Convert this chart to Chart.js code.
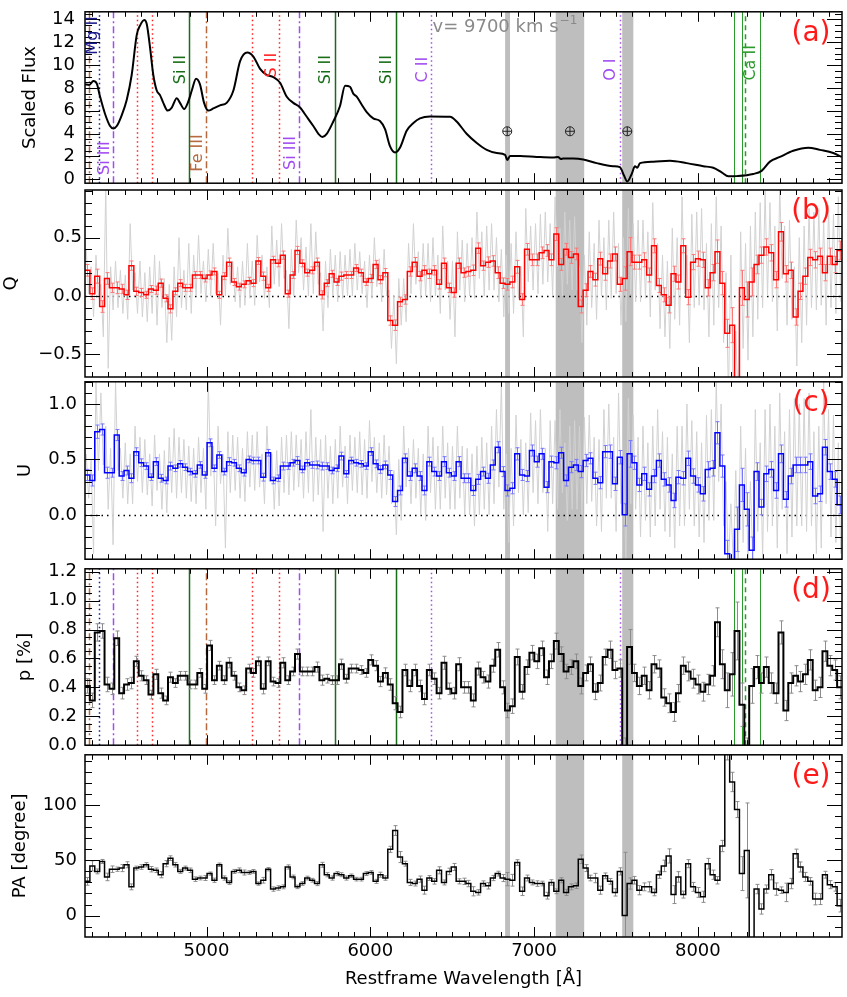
<!DOCTYPE html>
<html>
<head>
<meta charset="utf-8">
<title>Spectropolarimetry</title>
<script src="https://cdn.jsdelivr.net/npm/chart.js@4.4.1/dist/chart.umd.min.js"></script>
<style>
  html, body { margin: 0; padding: 0; background: #fff; }
  #wrap { position: relative; width: 847px; height: 997px; overflow: hidden; }
  #wrap canvas { position: absolute; left: 0; }
</style>
</head>
<body>
<div id="wrap"></div>
<script>
// wavelength range and axis ticks
var waveMin = 4258, waveMax = 8880;
var xMajorTicks = [5000, 6000, 7000, 8000];
var fluxTicks = [0, 2, 4, 6, 8, 10, 12, 14];
var qTicks = [-0.5, 0, 0.5];
var uTicks = [0, 0.5, 1.0];
var pTicks = [0, 0.2, 0.4, 0.6, 0.8, 1.0, 1.2];
var paTicks = [0, 50, 100];

// panel (a): scaled flux
var fluxWave = [4258, 4284, 4309, 4330, 4350, 4380, 4411, 4431, 4452, 4482, 4513, 4543, 4574, 4594, 4620, 4635,
  4655, 4675, 4696, 4716, 4736, 4763, 4788, 4818, 4838, 4863, 4889, 4910, 4936, 4960, 4985, 5011, 5042, 5082,
  5123, 5164, 5205, 5249, 5286, 5327, 5368, 5408, 5449, 5490, 5530, 5571, 5612, 5652, 5683, 5707, 5734, 5774,
  5815, 5846, 5876, 5896, 5917, 5947, 5978, 6018, 6059, 6090, 6120, 6151, 6181, 6222, 6263, 6303, 6364, 6487,
  6527, 6588, 6650, 6711, 6772, 6823, 6836, 6853, 6914, 7016, 7117, 7146, 7164, 7178, 7239, 7300, 7382, 7483,
  7524, 7549, 7569, 7596, 7616, 7630, 7647, 7728, 7830, 7932, 8033, 8094, 8145, 8186, 8237, 8338, 8389, 8440,
  8501, 8582, 8674, 8745, 8827, 8878];
var fluxVal = [8.31, 8.26, 8.6, 8.37, 7.23, 5.74, 4.66, 4.44, 4.66, 5.6, 6.96, 9.13, 12.65, 13.46, 13.95, 13.6,
  11.56, 9.13, 7.77, 7.37, 6.69, 6.01, 6.28, 7.1, 6.69, 6.15, 6.82, 7.77, 8.8, 8.31, 6.69, 6.01, 6.2, 6.47,
  6.69, 7.77, 10.34, 11.1, 10.75, 9.67, 9.13, 8.95, 8.45, 7.23, 6.69, 6.28, 5.47, 4.66, 3.98, 3.7, 3.98, 5.06,
  6.42, 8.2, 8.1, 7.5, 7.23, 6.55, 5.88, 5.33, 5.1, 4.39, 2.9, 2.35, 2.76, 4.25, 4.93, 5.33, 5.5, 5.47,
  5.06, 3.98, 3.17, 2.57, 2.3, 2.14, 1.68, 2.03, 2.03, 1.95, 1.9, 1.95, 1.78, 1.81, 1.81, 1.73, 1.41, 1.14,
  1.06, 0.32, -0.2, 0.46, 1.14, 1.0, 1.41, 1.54, 1.62, 1.41, 1.14, 1.0, 0.6, 0.25, 0.27, 0.46, 0.73, 1.54,
  1.95, 2.49, 2.76, 2.57, 2.3, 1.95];

// identified lines (panels a and d)
var markWave = [4285, 4346, 4431, 4574, 4669, 4895, 4997, 5280, 5444, 5565, 5784, 6155, 6371, 7524, 8222, 8267, 8288, 8379];
var markKind = ['fe', 'mg', 'si3', 's2', 's2', 'si2', 'fe', 's2', 's2', 'si3', 'si2', 'si2', 'c2', 'c2', 'ca', 'ca', 'caMid', 'ca'];
var labelText = ['Mg II', 'Si III', 'Si II', 'Fe III', 'S II', 'Si III', 'Si II', 'Si II', 'C II', 'O I', 'Ca II'];
var labelWave = [4307, 4380, 4844, 4948, 5400, 5516, 5730, 6102, 6322, 7470, 8324];
var labelFlux = [12.6, 1.85, 9.6, 2.3, 10.0, 2.3, 9.6, 9.6, 9.6, 9.6, 10.2];
var labelKind = ['mg', 'si3', 'si2', 'fe', 's2', 'si3', 'si2', 'si2', 'c2', 'c2', 'ca'];

// telluric regions
var bandStart = [6823, 7132, 7538];
var bandEnd = [6853, 7306, 7606];
var tellWave = [6836, 7219, 7569];
var tellFlux = 4.2;

// binned Stokes Q, U, polarization p and PA (per bin)
var qBin = [
  0.22, 0.02, 0.17, -0.09, 0.15, 0.07, 0.07, 0.06, 0.01, 0.26,
  0.04, 0.03, 0.01, 0.06, 0.05, 0.11, -0.02, -0.11, 0.04, 0.11,
  0.07, 0.07, 0.18, 0.18, 0.15, 0.18, 0.21, 0.01, 0.17, 0.29,
  0.12, 0.08, 0.10, 0.13, 0.11, 0.30, 0.17, 0.07, 0.31, 0.28,
  0.35, 0.02, 0.18, 0.39, 0.28, 0.20, 0.22, 0.29, 0.01, 0.11,
  0.19, 0.12, 0.17, 0.18, 0.18, 0.24, 0.20, 0.12, 0.15, 0.27,
  0.14, 0.20, -0.21, -0.25, -0.05, -0.03, 0.21, 0.29, 0.17, 0.22,
  0.19, 0.22, 0.10, 0.28, 0.07, 0.03, 0.28, 0.20, 0.21, 0.22,
  0.41, 0.26, 0.29, 0.30, 0.20, 0.11, 0.10, 0.12, 0.25, -0.03,
  0.40, 0.31, 0.31, 0.37, 0.39, 0.31, 0.53, 0.27, 0.40, 0.33,
  0.36, -0.09, 0.05, 0.21, 0.14, 0.32, 0.19, 0.30, 0.36, 0.10,
  0.15, 0.38, 0.29, 0.29, 0.31, 0.18, 0.43, 0.09, 0.01, -0.08,
  0.19, 0.12, 0.43, -0.01, 0.29, 0.32, 0.31, 0.07, 0.20, 0.38,
  0.11, -0.32, -0.25, -0.90, 0.07, -0.03, 0.12, 0.27, 0.35, 0.42,
  0.37, 0.14, 0.55, 0.19, 0.22, -0.18, 0.04, 0.17, 0.33, 0.31,
  0.34, 0.20, 0.34, 0.27, 0.39];
var uBin = [
  0.36, 0.31, 0.75, 0.77, 0.38, 0.38, 0.72, 0.35, 0.40, 0.33,
  0.57, 0.47, 0.44, 0.34, 0.48, 0.33, 0.31, 0.44, 0.42, 0.46,
  0.43, 0.39, 0.37, 0.45, 0.36, 0.65, 0.42, 0.54, 0.39, 0.48,
  0.47, 0.42, 0.38, 0.50, 0.49, 0.49, 0.34, 0.56, 0.31, 0.33,
  0.44, 0.44, 0.47, 0.49, 0.41, 0.47, 0.45, 0.45, 0.44, 0.44,
  0.40, 0.42, 0.53, 0.37, 0.49, 0.47, 0.46, 0.44, 0.57, 0.46,
  0.41, 0.45, 0.36, 0.12, 0.22, 0.51, 0.35, 0.42, 0.35, 0.22,
  0.48, 0.39, 0.35, 0.48, 0.38, 0.35, 0.48, 0.33, 0.33, 0.22,
  0.32, 0.39, 0.33, 0.45, 0.61, 0.39, 0.22, 0.24, 0.55, 0.36,
  0.35, 0.58, 0.48, 0.55, 0.25, 0.48, 0.47, 0.56, 0.31, 0.43,
  0.45, 0.39, 0.49, 0.51, 0.33, 0.29, 0.57, 0.57, 0.28, 0.52,
  0.00, 0.55, 0.47, 0.27, 0.37, 0.23, 0.35, 0.49, 0.32, 0.27,
  0.13, 0.34, 0.33, 0.51, 0.35, 0.27, 0.19, 0.41, 0.42, 0.74,
  0.44, -0.35, -0.55, -0.13, 0.27, 0.05, -0.32, 0.39, 0.07, 0.37,
  0.41, 0.22, 0.55, 0.14, 0.35, 0.45, 0.45, 0.45, 0.48, 0.17,
  0.19, 0.61, 0.39, 0.32, 0.09];
var pBin = [
  0.41, 0.31, 0.78, 0.79, 0.42, 0.39, 0.74, 0.36, 0.42, 0.43,
  0.58, 0.48, 0.45, 0.35, 0.49, 0.36, 0.31, 0.47, 0.43, 0.48,
  0.48, 0.42, 0.42, 0.50, 0.39, 0.69, 0.45, 0.55, 0.45, 0.57,
  0.48, 0.40, 0.38, 0.53, 0.50, 0.58, 0.39, 0.58, 0.44, 0.43,
  0.57, 0.45, 0.51, 0.63, 0.51, 0.51, 0.51, 0.54, 0.45, 0.46,
  0.45, 0.45, 0.56, 0.46, 0.53, 0.53, 0.52, 0.50, 0.59, 0.55,
  0.44, 0.50, 0.42, 0.29, 0.23, 0.52, 0.41, 0.52, 0.41, 0.32,
  0.52, 0.46, 0.36, 0.57, 0.39, 0.36, 0.56, 0.40, 0.40, 0.31,
  0.53, 0.47, 0.44, 0.55, 0.66, 0.40, 0.24, 0.27, 0.61, 0.37,
  0.54, 0.64, 0.58, 0.67, 0.47, 0.58, 0.72, 0.63, 0.51, 0.54,
  0.58, 0.41, 0.50, 0.56, 0.37, 0.43, 0.61, 0.66, 0.52, 0.53,
  -0.05, 0.68, 0.50, 0.41, 0.48, 0.38, 0.56, 0.53, 0.33, 0.29,
  0.23, 0.36, 0.55, 0.51, 0.46, 0.42, 0.37, 0.42, 0.48, 0.85,
  0.56, 0.38, 0.49, 0.79, 0.28, -0.10, 0.41, 0.54, 0.43, 0.54,
  0.43, 0.36, 0.78, 0.24, 0.43, 0.48, 0.44, 0.49, 0.59, 0.38,
  0.40, 0.65, 0.55, 0.52, 0.40];
var paBin = [
  31, 45, 40, 49, 35, 42, 42, 43, 46, 26,
  43, 44, 46, 42, 41, 37, 47, 52, 46, 40,
  43, 41, 33, 34, 34, 38, 32, 46, 34, 30,
  40, 41, 39, 39, 40, 29, 32, 42, 24, 25,
  26, 44, 35, 26, 29, 34, 32, 29, 46, 37,
  34, 38, 37, 34, 36, 33, 33, 38, 39, 31,
  37, 34, 60, 77, 53, 47, 30, 29, 33, 23,
  34, 31, 41, 30, 40, 44, 31, 31, 29, 22,
  21, 29, 27, 34, 38, 34, 33, 32, 48, 22,
  34, 30, 29, 29, 18, 30, 22, 32, 21, 26,
  27, 51, 43, 34, 34, 23, 36, 31, 21, 40,
  0, 29, 32, 23, 26, 26, 21, 37, 45, 54,
  19, 35, 19, 47, 26, 21, 17, 47, 37, 32,
  63, 150, 121, 96, 38, 59, -30, 24, 6, 24,
  37, 24, 23, 21, 29, 56, 44, 35, 31, 15,
  15, 37, 28, 26, 9];
// 1-sigma error of Q, U and p per bin
var errQU = [
  0.05, 0.05, 0.06, 0.05, 0.05, 0.04, 0.05, 0.04, 0.04, 0.04,
  0.035, 0.035, 0.03, 0.03, 0.035, 0.035, 0.03, 0.035, 0.03, 0.03,
  0.03, 0.03, 0.03, 0.03, 0.03, 0.035, 0.03, 0.03, 0.03, 0.035,
  0.03, 0.03, 0.03, 0.03, 0.03, 0.03, 0.035, 0.03, 0.03, 0.03,
  0.035, 0.03, 0.03, 0.035, 0.03, 0.03, 0.03, 0.035, 0.035, 0.03,
  0.03, 0.03, 0.035, 0.03, 0.03, 0.03, 0.03, 0.03, 0.035, 0.035,
  0.035, 0.035, 0.04, 0.045, 0.04, 0.04, 0.04, 0.04, 0.04, 0.04,
  0.04, 0.04, 0.04, 0.045, 0.04, 0.04, 0.045, 0.04, 0.04, 0.045,
  0.045, 0.04, 0.045, 0.045, 0.05, 0.045, 0.05, 0.05, 0.055, 0.05,
  0.05, 0.05, 0.05, 0.05, 0.05, 0.05, 0.055, 0.05, 0.05, 0.05,
  0.05, 0.055, 0.055, 0.05, 0.055, 0.055, 0.055, 0.06, 0.06, 0.06,
  0.1, 0.12, 0.06, 0.06, 0.06, 0.06, 0.06, 0.06, 0.06, 0.065,
  0.065, 0.06, 0.06, 0.065, 0.065, 0.065, 0.065, 0.07, 0.07, 0.1,
  0.1, 0.12, 0.15, 0.2, 0.15, 0.15, 0.12, 0.08, 0.07, 0.07,
  0.07, 0.07, 0.08, 0.07, 0.07, 0.07, 0.07, 0.07, 0.07, 0.07,
  0.07, 0.07, 0.07, 0.07, 0.08];

// unbinned Q and U (two samples per bin)
var rawQ = [
  0.40, 0.02, 0.25, -0.18, 0.35, -0.02, 0.10, -0.35, 0.95, -0.62, 0.25, -0.12, 0.30, -0.10, 0.22, -0.15, 0.18, -0.20, 0.62, 0.05,
  0.20, -0.15, 0.30, -0.18, 0.20, -0.22, 0.25, -0.15, 0.35, -0.25, 0.30, -0.10, 0.15, -0.40, 0.10, -0.38, 0.25, -0.18, 0.50, -0.10,
  0.22, -0.12, 0.45, -0.15, 0.35, 0.00, 0.52, 0.02, 0.30, -0.05, 0.40, 0.00, 0.45, 0.02, 0.20, -0.25, 0.35, 0.00, 0.58, 0.10,
  0.30, -0.05, 0.25, -0.10, 0.30, -0.08, 0.45, -0.02, 0.30, -0.08, 0.52, 0.12, 0.35, -0.02, 0.25, -0.10, 0.60, 0.10, 0.48, 0.08,
  0.62, 0.15, 0.22, -0.28, 0.40, 0.00, 0.65, 0.20, 0.50, 0.05, 0.42, 0.00, 0.62, 0.02, 0.55, 0.10, 0.20, -0.30, 0.30, -0.10,
  0.40, 0.00, 0.35, -0.05, 0.38, -0.02, 0.35, 0.00, 0.40, 0.00, 0.45, 0.05, 0.38, 0.02, 0.30, -0.10, 0.35, -0.02, 0.50, 0.08,
  0.32, -0.05, 0.40, 0.00, 0.05, -0.45, 0.00, -0.58, 0.15, -0.25, 0.15, -0.22, 0.45, 0.02, 0.62, 0.10, 0.38, -0.02, 0.45, 0.00,
  0.45, -0.05, 0.50, 0.00, 0.35, -0.15, 0.60, 0.05, 0.30, -0.20, 0.30, -0.35, 0.55, 0.05, 0.48, -0.05, 0.45, 0.00, 0.50, -0.02,
  0.72, 0.15, 0.55, 0.00, 0.60, 0.05, 0.62, 0.05, 0.50, -0.05, 0.40, -0.18, 0.35, -0.15, 0.45, -0.15, 0.55, -0.02, 0.25, -0.35,
  0.75, 0.12, 0.60, 0.05, 0.62, 0.02, 0.70, 0.10, 0.72, 0.12, 0.62, 0.00, 0.85, 0.25, 0.58, 0.00, 0.72, 0.10, 0.65, 0.05,
  0.68, 0.05, 0.25, -0.40, 0.35, -0.25, 0.55, -0.10, 0.45, -0.20, 0.65, 0.00, 0.50, -0.12, 0.65, -0.02, 0.72, 0.02, 0.45, -0.25,
  0.50, -0.22, 0.75, 0.02, 0.62, -0.05, 0.65, -0.05, 0.65, -0.02, 0.55, -0.18, 0.80, 0.05, 0.45, -0.28, 0.35, -0.35, 0.30, -0.45,
  0.58, -0.20, 0.50, -0.25, 0.85, 0.02, 0.35, -0.40, 0.70, -0.10, 0.72, -0.08, 0.75, -0.12, 0.45, -0.35, 0.62, -0.25, 0.85, -0.10,
  0.60, -0.40, 0.20, -0.85, 0.35, -0.90, -0.30, -0.95, 0.55, -0.45, 0.45, -0.55, 0.60, -0.35, 0.72, -0.20, 0.80, -0.10, 0.90, 0.00,
  0.80, -0.05, 0.60, -0.30, 0.95, 0.15, 0.60, -0.25, 0.65, -0.20, 0.25, -0.60, 0.50, -0.40, 0.60, -0.25, 0.75, -0.10, 0.72, -0.12,
  0.75, -0.08, 0.65, -0.25, 0.78, -0.10, 0.70, -0.15, 0.85, -0.05];
var rawU = [
  0.55, 0.15, 0.50, -0.35, 1.20, 0.40, 1.10, 0.45, 0.80, 0.05, 0.60, -0.27, 1.20, 0.40, 0.60, 0.15, 0.65, 0.10, 0.55, 0.10,
  0.80, 0.30, 0.70, 0.20, 0.68, 0.18, 0.55, 0.08, 0.72, 0.22, 0.55, 0.05, 0.58, 0.02, 0.70, 0.20, 0.78, 0.15, 0.70, 0.20,
  0.68, 0.15, 0.62, 0.12, 0.60, 0.10, 0.70, 0.20, 0.60, 0.05, 1.20, 0.35, 0.62, -0.10, 0.80, 0.28, 0.55, -0.30, 0.75, 0.20,
  0.72, 0.22, 0.70, 0.15, 0.60, 0.12, 0.75, 0.25, 0.72, 0.22, 0.75, 0.25, 0.55, 0.10, 0.80, 0.30, 0.55, 0.05, 0.58, 0.08,
  0.70, 0.20, 0.72, 0.18, 0.75, 0.22, 0.72, 0.25, 0.68, 0.15, 0.75, 0.20, 0.95, 0.12, 0.70, 0.18, 0.68, -0.15, 0.72, 0.15,
  0.62, 0.10, 0.68, 0.15, 0.80, 0.25, 0.62, 0.10, 0.72, 0.22, 0.70, 0.20, 0.75, 0.18, 0.68, 0.15, 0.85, 0.30, 0.70, 0.20,
  0.65, 0.15, 0.72, 0.18, 0.62, 0.10, 0.40, -0.18, 0.50, -0.05, 0.80, 0.25, 0.60, 0.10, 0.68, 0.15, 0.60, 0.00, 0.55, -0.05,
  0.80, 0.20, 0.70, 0.05, 0.62, 0.05, 0.80, 0.15, 0.65, 0.05, 0.62, 0.05, 0.80, 0.15, 0.62, 0.00, 0.60, 0.00, 0.55, -0.10,
  0.62, 0.00, 0.70, 0.05, 0.65, 0.00, 0.80, 0.10, 0.95, 0.25, 1.20, 0.05, 0.55, -0.25, 0.60, -0.10, 0.90, 0.20, 0.68, 0.00,
  0.65, 0.02, 0.92, 0.20, 0.85, 0.10, 0.95, 0.20, 0.60, -0.15, 0.85, 0.10, 0.85, 0.05, 0.95, 0.20, 0.65, -0.05, 0.80, 0.05,
  0.85, 0.05, 0.80, 0.00, 0.88, 0.10, 0.90, 0.12, 0.70, -0.10, 0.68, -0.15, 0.95, 0.15, 1.00, 0.15, 0.70, -0.15, 1.10, 0.10,
  0.45, -0.40, 1.05, 0.10, 0.90, 0.05, 0.70, -0.20, 0.80, -0.05, 0.65, -0.20, 0.80, -0.10, 0.95, 0.05, 0.75, -0.15, 0.70, -0.20,
  0.55, -0.30, 0.80, -0.10, 0.80, -0.10, 1.00, 0.05, 0.85, -0.10, 0.75, -0.20, 0.65, -0.25, 0.90, -0.05, 0.95, -0.05, 1.20, 0.30,
  1.00, -0.10, 0.30, -0.45, 0.10, -0.45, 0.40, -0.45, 0.80, -0.25, 0.60, -0.40, 0.30, -0.45, 0.95, -0.15, 0.65, -0.40, 0.95, -0.15,
  1.00, -0.10, 0.80, -0.30, 1.10, 0.05, 0.75, -0.35, 0.95, -0.20, 1.05, -0.10, 1.00, -0.10, 1.05, -0.15, 1.10, -0.10, 0.75, -0.35,
  0.80, -0.30, 1.20, 0.10, 0.95, -0.20, 0.90, -0.25, 0.65, -0.35];

// ---- helpers ----
var FONT = 'DejaVu Sans';
Chart.defaults.font.family = FONT;
var nBins = qBin.length;
var binW = (waveMax - waveMin) / nBins;

function binEdge(i) {
    return waveMin + i * binW;
}

function stepData(vals) {
    var pts = [];
    vals.forEach(function (v, i) {
        pts.push({x: binEdge(i), y: v}, {x: binEdge(i + 1), y: v});
    });
    return pts;
}

function rawData(vals) {
    return vals.map(function (v, j) {
        return {x: waveMin + (j + 0.5) * binW / 2, y: v};
    });
}

// PA error propagated from the polarization error
var paErr = pBin.map(function (p, i) {
    return Math.min(60, 28.65 * errQU[i] / Math.max(Math.abs(p), 0.05));
});

var markStyle = {
    fe: {color: '#b5693f', dash: [7, 3, 2, 3], width: 1.5},
    mg: {color: '#1a1a8c', dash: [1.5, 3], width: 1.5},
    si3: {color: '#a24cf0', dash: [7, 3, 2, 3], width: 1.5},
    s2: {color: '#ff2020', dash: [1.5, 3], width: 1.5},
    si2: {color: '#176e17', dash: [], width: 1.5},
    c2: {color: '#a24cf0', dash: [1.5, 3], width: 1.5},
    ca: {color: '#2a9a2a', dash: [], width: 1},
    caMid: {color: '#2a9a2a', dash: [5, 4], width: 1.5}
};

var panels = [
    {id: 'pa', top: 5, bottom: 190, yMin: -0.35, yMax: 14.67, yTicks: fluxTicks, minor: 0.5, major: 2,
     title: 'Scaled Flux', titlePad: 20, labelPad: 10, letter: '(a)', decimals: 0, marks: true, flux: true},
    {id: 'pb', top: 190, bottom: 377, yMin: -0.694, yMax: 0.908, yTicks: qTicks, minor: 0.1, major: 0.5,
     title: 'Q', titlePad: 1, labelPad: 3, letter: '(b)', decimals: 1, zero: true,
     vals: qBin, err: errQU, errColor: '#ff7878'},
    {id: 'pc', top: 377, bottom: 564, yMin: -0.40, yMax: 1.20, yTicks: uTicks, minor: 0.1, major: 0.5,
     title: 'U', titlePad: 15, labelPad: 8, letter: '(c)', decimals: 1, zero: true,
     vals: uBin, err: errQU, errColor: '#7878ff'},
    {id: 'pd', top: 564, bottom: 750, yMin: 0, yMax: 1.22, yTicks: pTicks, minor: 0.05, major: 0.2,
     title: 'p [%]', titlePad: 15, labelPad: 8, letter: '(d)', decimals: 1, marks: true,
     vals: pBin, err: errQU, errColor: '#8c8c8c'},
    {id: 'pe', top: 750, bottom: 937, yMin: -19.4, yMax: 145.6, yTicks: paTicks, minor: 10, major: 50,
     title: 'PA [degree]', titlePad: 10, labelPad: 8, letter: '(e)', decimals: 0, bottomAxis: true,
     vals: paBin, err: paErr, errColor: '#8c8c8c'}
];
var panelById = {};
panels.forEach(function (p) { panelById[p.id] = p; });

function clipArea(ctx, a) {
    ctx.beginPath();
    ctx.rect(a.left, a.top, a.right - a.left, a.bottom - a.top);
    ctx.clip();
}

function drawFluxLabels(chart) {
    var ctx = chart.ctx, x = chart.scales.x, y = chart.scales.y, a = chart.chartArea;
    ctx.save();
    ctx.font = '16px ' + FONT;
    ctx.textAlign = 'center';
    ctx.textBaseline = 'middle';
    labelText.forEach(function (t, i) {
        ctx.save();
        ctx.translate(x.getPixelForValue(labelWave[i]), y.getPixelForValue(labelFlux[i]));
        ctx.rotate(-Math.PI / 2);
        ctx.fillStyle = markStyle[labelKind[i]].color;
        ctx.fillText(t, 0, 0);
        ctx.restore();
    });
    // telluric markers
    ctx.strokeStyle = '#222';
    ctx.lineWidth = 1;
    tellWave.forEach(function (w) {
        var cx = x.getPixelForValue(w), cy = y.getPixelForValue(tellFlux);
        ctx.beginPath();
        ctx.arc(cx, cy, 4.5, 0, Math.PI * 2);
        ctx.moveTo(cx - 4.5, cy); ctx.lineTo(cx + 4.5, cy);
        ctx.moveTo(cx, cy - 4.5); ctx.lineTo(cx, cy + 4.5);
        ctx.stroke();
    });
    // velocity note
    ctx.fillStyle = '#8a8a8a';
    ctx.textAlign = 'left';
    ctx.textBaseline = 'alphabetic';
    ctx.font = '18px ' + FONT;
    var vx = x.getPixelForValue(6380), vy = a.top + 20;
    var main = 'v= 9700 km s';
    ctx.fillText(main, vx, vy);
    var mw = ctx.measureText(main).width;
    ctx.font = '12px ' + FONT;
    ctx.fillText('\u22121', vx + mw + 1, vy - 8);
    ctx.restore();
}

var panelDeco = {
    id: 'panelDeco',
    beforeDatasetsDraw: function (chart) {
        var cfg = panelById[chart.canvas.id];
        var ctx = chart.ctx, a = chart.chartArea, x = chart.scales.x, y = chart.scales.y;
        ctx.save();
        clipArea(ctx, a);
        ctx.fillStyle = '#bebebe';
        bandStart.forEach(function (w0, i) {
            var x0 = x.getPixelForValue(w0), x1 = x.getPixelForValue(bandEnd[i]);
            ctx.fillRect(x0, a.top, x1 - x0, a.bottom - a.top);
        });
        if (cfg.marks) {
            markWave.forEach(function (w, i) {
                var st = markStyle[markKind[i]];
                var px = Math.round(x.getPixelForValue(w)) + 0.5;
                ctx.strokeStyle = st.color;
                ctx.lineWidth = st.width;
                ctx.setLineDash(st.dash);
                ctx.beginPath();
                ctx.moveTo(px, a.bottom);
                ctx.lineTo(px, a.top);
                ctx.stroke();
            });
            ctx.setLineDash([]);
        }
        if (cfg.zero) {
            var py = Math.round(y.getPixelForValue(0)) + 0.5;
            ctx.strokeStyle = '#000';
            ctx.lineWidth = 1.5;
            ctx.setLineDash([1.5, 4]);
            ctx.beginPath();
            ctx.moveTo(a.left, py);
            ctx.lineTo(a.right, py);
            ctx.stroke();
            ctx.setLineDash([]);
        }
        ctx.restore();
    },
    beforeDatasetDraw: function (chart, args) {
        var cfg = panelById[chart.canvas.id];
        if (args.index !== 0 || !cfg.vals) return;
        var ctx = chart.ctx, a = chart.chartArea, x = chart.scales.x, y = chart.scales.y;
        ctx.save();
        clipArea(ctx, a);
        ctx.strokeStyle = cfg.errColor;
        ctx.lineWidth = 1;
        ctx.beginPath();
        cfg.vals.forEach(function (v, i) {
            var px = Math.round(x.getPixelForValue(binEdge(i) + binW / 2)) + 0.5;
            var y0 = y.getPixelForValue(v - cfg.err[i]), y1 = y.getPixelForValue(v + cfg.err[i]);
            ctx.moveTo(px, y0); ctx.lineTo(px, y1);
            ctx.moveTo(px - 2, y0); ctx.lineTo(px + 2, y0);
            ctx.moveTo(px - 2, y1); ctx.lineTo(px + 2, y1);
        });
        ctx.stroke();
        ctx.restore();
    },
    afterDatasetsDraw: function (chart) {
        var cfg = panelById[chart.canvas.id];
        var ctx = chart.ctx, a = chart.chartArea, x = chart.scales.x, y = chart.scales.y;
        ctx.save();
        ctx.strokeStyle = '#000';
        ctx.lineWidth = 1;
        ctx.beginPath();
        for (var k = 43; k <= 88; k++) {
            var w = k * 100;
            var px = Math.round(x.getPixelForValue(w)) + 0.5;
            var len = (w % 1000 === 0) ? 10 : 5;
            ctx.moveTo(px, a.bottom); ctx.lineTo(px, a.bottom - len);
            ctx.moveTo(px, a.top); ctx.lineTo(px, a.top + len);
        }
        var kMin = Math.ceil(cfg.yMin / cfg.minor - 1e-6), kMax = Math.floor(cfg.yMax / cfg.minor + 1e-6);
        for (var j = kMin; j <= kMax; j++) {
            var v = j * cfg.minor;
            var r = v / cfg.major;
            var isMajor = Math.abs(r - Math.round(r)) < 1e-6;
            var ylen = isMajor ? 15 : 7;
            var py = Math.round(y.getPixelForValue(v)) + 0.5;
            ctx.moveTo(a.left, py); ctx.lineTo(a.left + ylen, py);
            ctx.moveTo(a.right, py); ctx.lineTo(a.right - ylen, py);
        }
        ctx.stroke();
        ctx.lineWidth = 1.5;
        ctx.strokeRect(a.left, a.top, a.right - a.left, a.bottom - a.top);
        ctx.fillStyle = '#ff1a1a';
        ctx.font = '28px ' + FONT;
        ctx.textAlign = 'center';
        ctx.textBaseline = 'middle';
        ctx.fillText(cfg.letter, 811, a.top + 22);
        ctx.restore();
        if (cfg.flux) drawFluxLabels(chart);
    }
};

function buildDatasets(cfg) {
    if (cfg.flux) {
        return [{
            data: fluxWave.map(function (w, i) { return {x: w, y: fluxVal[i]}; }),
            borderColor: '#000', borderWidth: 2, pointRadius: 0, cubicInterpolationMode: 'monotone'
        }];
    }
    var colors = {pb: '#ff0000', pc: '#0000ff', pd: '#000000', pe: '#000000'};
    var sets = [{
        data: stepData(cfg.vals), borderColor: colors[cfg.id],
        borderWidth: cfg.id === 'pd' ? 2 : 1.5, pointRadius: 0, tension: 0
    }];
    if (cfg.id === 'pb') sets.push({data: rawData(rawQ), borderColor: '#d2d2d2', borderWidth: 1, pointRadius: 0});
    if (cfg.id === 'pc') sets.push({data: rawData(rawU), borderColor: '#d2d2d2', borderWidth: 1, pointRadius: 0});
    return sets;
}

var wrap = document.getElementById('wrap');
panels.forEach(function (cfg) {
    var pad = 14;
    var cTop = cfg.top - pad;
    var cBottom = cfg.bottomAxis ? 997 : cfg.bottom + pad;
    var canvas = document.createElement('canvas');
    canvas.id = cfg.id;
    canvas.width = 847;
    canvas.height = cBottom - cTop;
    canvas.style.top = cTop + 'px';
    canvas.style.width = '847px';
    canvas.style.height = (cBottom - cTop) + 'px';
    wrap.appendChild(canvas);

    new Chart(canvas.getContext('2d'), {
        type: 'line',
        data: {datasets: buildDatasets(cfg)},
        options: {
            responsive: false,
            animation: false,
            devicePixelRatio: 1,
            events: [],
            layout: {
                padding: {top: pad, bottom: cfg.bottomAxis ? 0 : pad, left: 0, right: 5}
            },
            plugins: {legend: {display: false}, tooltip: {enabled: false}},
            scales: {
                x: {
                    type: 'linear', min: waveMin, max: waveMax,
                    display: !!cfg.bottomAxis,
                    grid: {display: false, drawTicks: false},
                    border: {display: false},
                    afterBuildTicks: function (s) {
                        s.ticks = xMajorTicks.map(function (v) { return {value: v}; });
                    },
                    afterFit: function (s) { if (cfg.bottomAxis) s.height = 60; },
                    ticks: {
                        font: {size: 18}, color: '#000', padding: 4, maxRotation: 0, autoSkip: false,
                        callback: function (v) { return String(v); }
                    },
                    title: {
                        display: true, text: 'Restframe Wavelength [\u00c5]',
                        font: {size: 18}, color: '#000', padding: {top: 0, bottom: 7}
                    }
                },
                y: {
                    type: 'linear', min: cfg.yMin, max: cfg.yMax,
                    grid: {display: false, drawTicks: false},
                    border: {display: false},
                    afterBuildTicks: function (s) {
                        s.ticks = cfg.yTicks.map(function (v) { return {value: v}; });
                    },
                    afterFit: function (s) { s.width = 85; },
                    ticks: {
                        font: {size: 18}, color: '#000', padding: cfg.labelPad, autoSkip: false,
                        callback: function (v) {
                            return cfg.decimals ? v.toFixed(cfg.decimals).replace('-', '\u2212') : String(v);
                        }
                    },
                    title: {
                        display: true, text: cfg.title, font: {size: 18}, color: '#000',
                        padding: {top: cfg.titlePad, bottom: 0}
                    }
                }
            }
        },
        plugins: [panelDeco]
    });
});
</script>
</body>
</html>
